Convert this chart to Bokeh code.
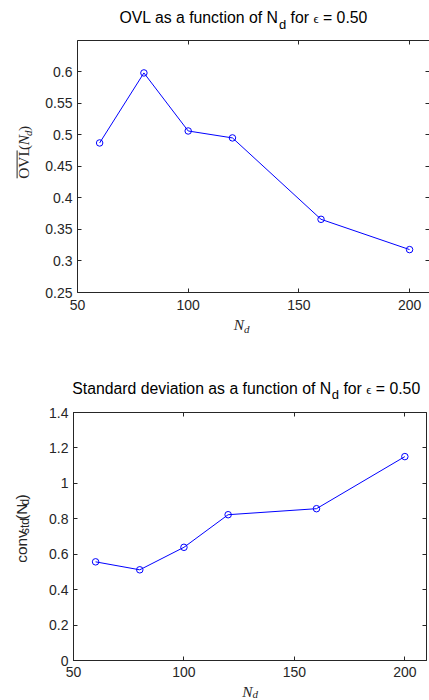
from math import pi
from bokeh.plotting import figure
from bokeh.models import LinearAxis, FixedTicker, Range1d
from bokeh.layouts import column, row
from bokeh.embed import file_html
from bokeh.resources import INLINE
from bokeh.core.properties import value

# ---------------- data ----------------
N_d = [60, 80, 100, 120, 160, 200]
ovl = [0.487, 0.598, 0.506, 0.495, 0.366, 0.318]
conv_std = [0.557, 0.512, 0.639, 0.823, 0.857, 1.151]

x_ticks = [50, 100, 150, 200]
x_tick_labels = ["50", "100", "150", "200"]
ovl_ticks = [0.25, 0.3, 0.35, 0.4, 0.45, 0.5, 0.55, 0.6]
ovl_tick_labels = ["0.25", "0.3", "0.35", "0.4", "0.45", "0.5", "0.55", "0.6"]
std_ticks = [0, 0.2, 0.4, 0.6, 0.8, 1, 1.2, 1.4]
std_tick_labels = ["0", "0.2", "0.4", "0.6", "0.8", "1", "1.2", "1.4"]

title_top = ["OVL as a function of N", "d", "for", "\u03f5", "= 0.50"]
title_bottom = ["Standard deviation as a function of N", "d", "for", "\u03f5", "= 0.50"]
ylabel_top = ["OVL", "(", "N", "d", ")"]
ylabel_bottom = ["conv", "std", "(N", "d", ")"]
xlabel = ["N", "d"]

# ---------------- style ----------------
SANS = "Liberation Sans"
SERIF = "Liberation Serif"
AX = "#262626"
BLUE = "#0000ff"
W = 429
MID = 0.32  # distance (in em) from the alphabetic baseline up to the text middle

ARIAL = {' ': 278, 'a': 556, 'b': 556, 'c': 500, 'd': 556, 'e': 556, 'f': 278, 'g': 556,
         'h': 556, 'i': 222, 'l': 222, 'm': 833, 'n': 556, 'o': 556, 'r': 333, 's': 500,
         't': 278, 'u': 556, 'v': 500, 'O': 778, 'V': 667, 'L': 556, 'N': 722, 'S': 667,
         '(': 333, ')': 333, '=': 584, '.': 278, '0': 556, '5': 556}
TIMES = {'O': 722, 'V': 722, 'L': 611, '(': 333, ')': 333, 'N': 667, 'd': 500, '\u03f5': 400}


def tw(text, table, size):
    return sum(table.get(c, 556) for c in text) * size / 1000.0


def make_fig(width, height, x_end, y_rng, borders, yt, ytl, yvals, outline, standoff):
    bl, br, bt, bb = borders
    p = figure(width=width, height=height, x_range=Range1d(50, x_end), y_range=Range1d(*y_rng),
               output_backend="svg", toolbar_location=None,
               min_border_left=bl, min_border_right=br, min_border_top=bt, min_border_bottom=bb)
    p.title.visible = False
    p.grid.visible = False
    p.background_fill_color = "white"
    p.border_fill_color = "white"
    p.outline_line_color = AX if outline else None
    p.xaxis.ticker = FixedTicker(ticks=x_ticks)
    p.xaxis.major_label_overrides = dict(zip(x_ticks, x_tick_labels))
    p.yaxis.ticker = FixedTicker(ticks=yt)
    p.yaxis.major_label_overrides = dict(zip(yt, ytl))
    for ax in (p.xaxis[0], p.yaxis[0]):
        ax.axis_line_color = AX
        ax.major_tick_line_color = AX
        ax.major_tick_in = 4
        ax.major_tick_out = 0
        ax.minor_tick_line_color = None
        ax.major_label_text_font = SANS
        ax.major_label_text_font_size = "14px"
        ax.major_label_text_color = AX
    p.xaxis.major_label_standoff = standoff
    p.yaxis.major_label_standoff = 5
    top_ax = LinearAxis(ticker=FixedTicker(ticks=x_ticks), major_label_text_color=None,
                        major_tick_in=4, major_tick_out=0, major_label_standoff=0,
                        axis_line_color=AX, major_tick_line_color=AX, minor_tick_line_color=None)
    right_ax = LinearAxis(ticker=FixedTicker(ticks=yt), major_label_text_color=None,
                          major_tick_in=4, major_tick_out=0, major_label_standoff=0,
                          axis_line_color=None, major_tick_line_color=AX, minor_tick_line_color=None)
    p.add_layout(top_ax, "above")
    p.add_layout(right_ax, "right")
    p.line(N_d, yvals, line_color=BLUE, line_width=1)
    p.scatter(N_d, yvals, marker="circle", size=6.5, fill_color=None, line_color=BLUE, line_width=1)
    return p


class TextBox:
    """A bare figure whose frame covers its whole canvas, used to hold texts."""

    def __init__(self, w, h, px0, py0):
        self.w, self.h, self.px0, self.py0 = w, h, px0, py0
        f = figure(width=w, height=h, x_range=Range1d(0, w), y_range=Range1d(0, h),
                   output_backend="svg", toolbar_location=None,
                   x_axis_type=None, y_axis_type=None, min_border=0)
        f.title.visible = False
        f.outline_line_color = None
        f.background_fill_color = "white"
        f.border_fill_color = "white"
        self.f = f

    def put(self, px, py, text, size, font=SANS, style="normal", color=AX, rotated=False):
        # (px, py): start of the text on its alphabetic baseline, in page pixels
        if rotated:
            px -= MID * size
        else:
            py -= MID * size
        self.f.text(x=[px - self.px0], y=[self.py0 + self.h - py], text=[text],
                    text_font=value(font), text_font_size=value(f"{size}px"),
                    text_font_style=value(style), text_color=color,
                    angle=pi / 2 if rotated else 0.0,
                    text_align=value("left"), text_baseline=value("middle"))

    def vline(self, px, py1, py2):
        self.f.line(x=[px - self.px0, px - self.px0],
                    y=[self.py0 + self.h - py1, self.py0 + self.h - py2],
                    line_color=AX, line_width=1)


def title_pieces(box, x0, base, parts, sub_drop):
    a, s, b, eps, c = parts
    fs = 15.8
    box.put(x0, base, a, fs, color="#000000")
    x = x0 + tw(a, ARIAL, fs) + 0.5
    box.put(x, base + sub_drop, s, 13, color="#000000")
    x += tw(s, ARIAL, 13) + tw(" ", ARIAL, fs)
    box.put(x, base, b, fs, color="#000000")
    x += tw(b + " ", ARIAL, fs)
    box.put(x, base, eps, 13, SERIF, color="#000000")
    x += tw(eps, TIMES, 13) + tw(" ", ARIAL, fs)
    box.put(x, base, c, fs, color="#000000")


# ---------------- top block ----------------
T1 = TextBox(W, 38, 0, 0)
title_pieces(T1, 119, 22.3, title_top, 6)

Y1 = TextBox(36, 277, 0, 38)
yb, ys = 28.3, 190.0
Y1.put(yb, ys, ylabel_top[0], 15.4, SERIF, "normal", rotated=True)
w_ovl = tw("OVL", TIMES, 15.4)
Y1.vline(16.6, ys - 0.5, ys - w_ovl + 0.5)
ys -= w_ovl
Y1.put(yb, ys, ylabel_top[1], 15.4, SERIF, "normal", rotated=True)
ys -= tw("(", TIMES, 15.4)
Y1.put(yb, ys, ylabel_top[2], 15.4, SERIF, "italic", rotated=True)
ys -= tw("N", TIMES, 15.4)
Y1.put(yb + 3, ys, ylabel_top[3], 11, SERIF, "italic", rotated=True)
ys -= tw("d", TIMES, 11)
Y1.put(yb, ys, ylabel_top[4], 15.4, SERIF, "normal", rotated=True)

p1 = make_fig(W - 36, 277, 209.0, (0.25, 0.6494), (41, 0, 2, 23),
              ovl_ticks, ovl_tick_labels, ovl, False, 7)

X1 = TextBox(W, 35, 0, 315)
X1.put(233.3, 329, xlabel[0], 15.4, SERIF, "italic")
X1.put(233.3 + tw("N", TIMES, 15.4), 332.5, xlabel[1], 11, SERIF, "italic")

# ---------------- bottom block ----------------
T2 = TextBox(W, 52, 0, 350)
title_pieces(T2, 71.7, 393, title_bottom, 5)

Y2 = TextBox(36, 280, 0, 402)
yb, ys = 25.5, 571.7
sizes = [15.4, 12, 15.4, 12, 15.4]
shifts = [0, 3, 0, 3, 0]
for part, sz, sh in zip(ylabel_bottom, sizes, shifts):
    Y2.put(yb + sh, ys, part, sz, SANS, "normal", rotated=True)
    ys -= tw(part, ARIAL, sz)

p2 = make_fig(W - 36, 280, 209.8, (0, 1.4), (37, 3, 10, 22),
              std_ticks, std_tick_labels, conv_std, True, 6)

X2 = TextBox(W, 18, 0, 682)
X2.put(241.7, 696, xlabel[0], 15.4, SERIF, "italic")
X2.put(241.7 + tw("N", TIMES, 15.4), 697, xlabel[1], 11, SERIF, "italic")

layout = column(
    T1.f,
    row(Y1.f, p1, spacing=0),
    X1.f,
    T2.f,
    row(Y2.f, p2, spacing=0),
    X2.f,
    spacing=0,
)
open("out.html", "w").write(file_html(layout, INLINE))
